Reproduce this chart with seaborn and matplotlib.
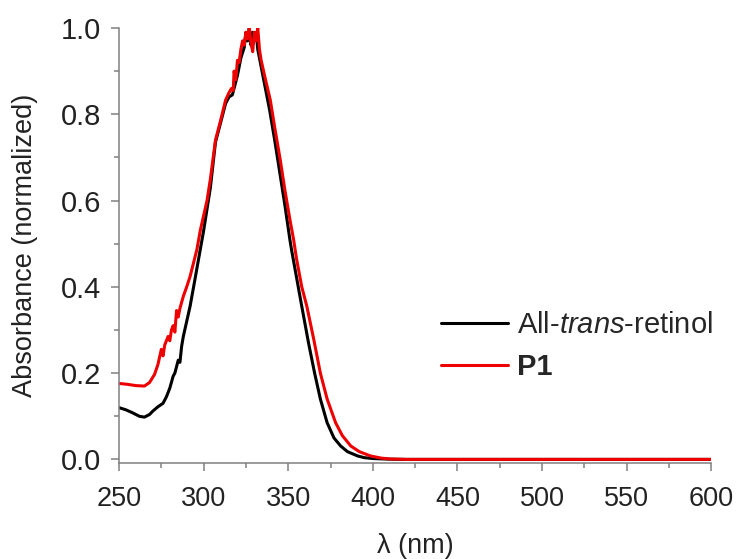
import pandas as pd
import matplotlib.pyplot as plt
import seaborn as sns
from matplotlib.ticker import MultipleLocator

# absorbance spectra
retinol_wl = [250, 254, 258, 262, 265, 268, 270, 273, 276, 278, 279, 280, 282, 283,
              284, 285, 286, 287, 288, 290, 292, 295, 298, 300, 302, 304, 307, 310,
              313, 315, 317, 318, 320, 322, 324, 325, 326, 327, 328, 329, 330, 331,
              332, 334, 336, 339, 342, 345, 348, 351, 352, 355, 358, 362, 365.6, 369,
              373, 377, 381, 385, 391, 395, 400, 410, 420, 450, 500, 550, 600]
retinol_abs = [0.120, 0.115, 0.108, 0.100, 0.098, 0.104, 0.112, 0.122, 0.130, 0.145,
               0.155, 0.165, 0.193, 0.200, 0.215, 0.230, 0.225, 0.262, 0.285, 0.320,
               0.355, 0.420, 0.486, 0.530, 0.580, 0.630, 0.735, 0.780, 0.825, 0.840,
               0.845, 0.860, 0.890, 0.930, 0.955, 0.990, 0.970, 1.000, 0.960, 0.990,
               0.975, 0.990, 0.950, 0.910, 0.870, 0.810, 0.740, 0.665, 0.590, 0.509,
               0.485, 0.420, 0.355, 0.270, 0.200, 0.140, 0.085, 0.050, 0.031, 0.018,
               0.008, 0.004, 0.002, 0.0005, 0.0, 0.0, 0.0, 0.0, 0.0]

p1_wl = [250, 255, 260, 265, 268, 271, 273, 275, 276, 277, 279, 280, 281, 282, 283,
         284, 285, 286, 288, 290, 292, 294, 296, 298, 300, 302, 304, 307, 310, 313,
         315, 316.5, 317.5, 318, 319, 320, 321, 322, 323, 324, 325, 326, 327, 328,
         329, 330, 331, 332, 333, 334, 336, 339.4, 342, 345.3, 348, 351, 353.2, 355,
         358, 361, 365, 369, 373, 378, 382, 387, 392, 398.6, 405, 410, 420, 450, 500,
         550, 600]
p1_abs = [0.176, 0.174, 0.171, 0.170, 0.178, 0.197, 0.220, 0.255, 0.240, 0.265,
          0.285, 0.275, 0.300, 0.310, 0.295, 0.345, 0.330, 0.350, 0.378, 0.400,
          0.424, 0.455, 0.486, 0.530, 0.565, 0.600, 0.650, 0.740, 0.785, 0.833,
          0.850, 0.860, 0.855, 0.900, 0.880, 0.925, 0.920, 0.950, 0.970, 0.960,
          0.990, 0.975, 1.000, 0.965, 0.945, 0.990, 0.970, 1.000, 0.950, 0.925,
          0.890, 0.833, 0.770, 0.694, 0.625, 0.556, 0.509, 0.463, 0.400, 0.355,
          0.280, 0.200, 0.140, 0.085, 0.055, 0.031, 0.018, 0.008, 0.003, 0.001,
          0.0, 0.0, 0.0, 0.0, 0.0]

series_names = ['All-trans-retinol', 'P1']
series_colors = ['black', '#ee0000']

sns.set_style('ticks')
plt.rcParams['font.family'] = ['Liberation Sans', 'DejaVu Sans']
plt.rcParams['mathtext.fontset'] = 'custom'
plt.rcParams['mathtext.rm'] = 'Liberation Sans'
plt.rcParams['mathtext.it'] = 'Liberation Sans:italic'

df = pd.concat([
    pd.DataFrame({'wl': retinol_wl, 'abs': retinol_abs, 'sample': series_names[0]}),
    pd.DataFrame({'wl': p1_wl, 'abs': p1_abs, 'sample': series_names[1]}),
])

fig = plt.figure(figsize=(7.37, 5.59), dpi=100)
ax = fig.add_axes([0.1615, 0.172, 0.8035, 0.778])

sns.lineplot(data=df, x='wl', y='abs', hue='sample', estimator=None,
             palette=dict(zip(series_names, series_colors)), linewidth=2.2, ax=ax)

ax.set_xlim(250, 600)
ax.set_ylim(-0.008, 1.0)
ax.xaxis.set_major_locator(MultipleLocator(50))
ax.xaxis.set_minor_locator(MultipleLocator(25))
ax.yaxis.set_major_locator(MultipleLocator(0.2))
ax.yaxis.set_minor_locator(MultipleLocator(0.1))
ax.yaxis.set_major_formatter(plt.FormatStrFormatter('%.1f'))

grey = '#808080'
txt = '#222222'
for side in ['top', 'right']:
    ax.spines[side].set_visible(False)
for side in ['left', 'bottom']:
    ax.spines[side].set_color(grey)
    ax.spines[side].set_linewidth(1.1)
ax.tick_params(which='major', direction='out', length=6, width=1.1, color=grey,
               labelcolor=txt)
ax.tick_params(which='minor', direction='out', length=3.5, width=1.1, color=grey)
ax.tick_params(axis='x', which='major', labelsize=19.5, pad=11)
ax.tick_params(axis='y', which='major', labelsize=21, pad=7)

ax.set_xlabel('λ (nm)', fontsize=19.5, color=txt, labelpad=15)
ax.set_ylabel('Absorbance (normalized)', fontsize=19.5, color=txt, labelpad=16)

handles, _ = ax.get_legend_handles_labels()
leg = ax.legend(handles, [r'All-$\it{trans}$-retinol', 'P1'], frameon=False,
                fontsize=21, handlelength=2.3, handletextpad=0.3, labelspacing=0.5,
                loc='upper left', bbox_to_anchor=(0.5, 0.41))
leg.get_texts()[1].set_fontweight('bold')

fig.savefig('out.png', dpi=100)
